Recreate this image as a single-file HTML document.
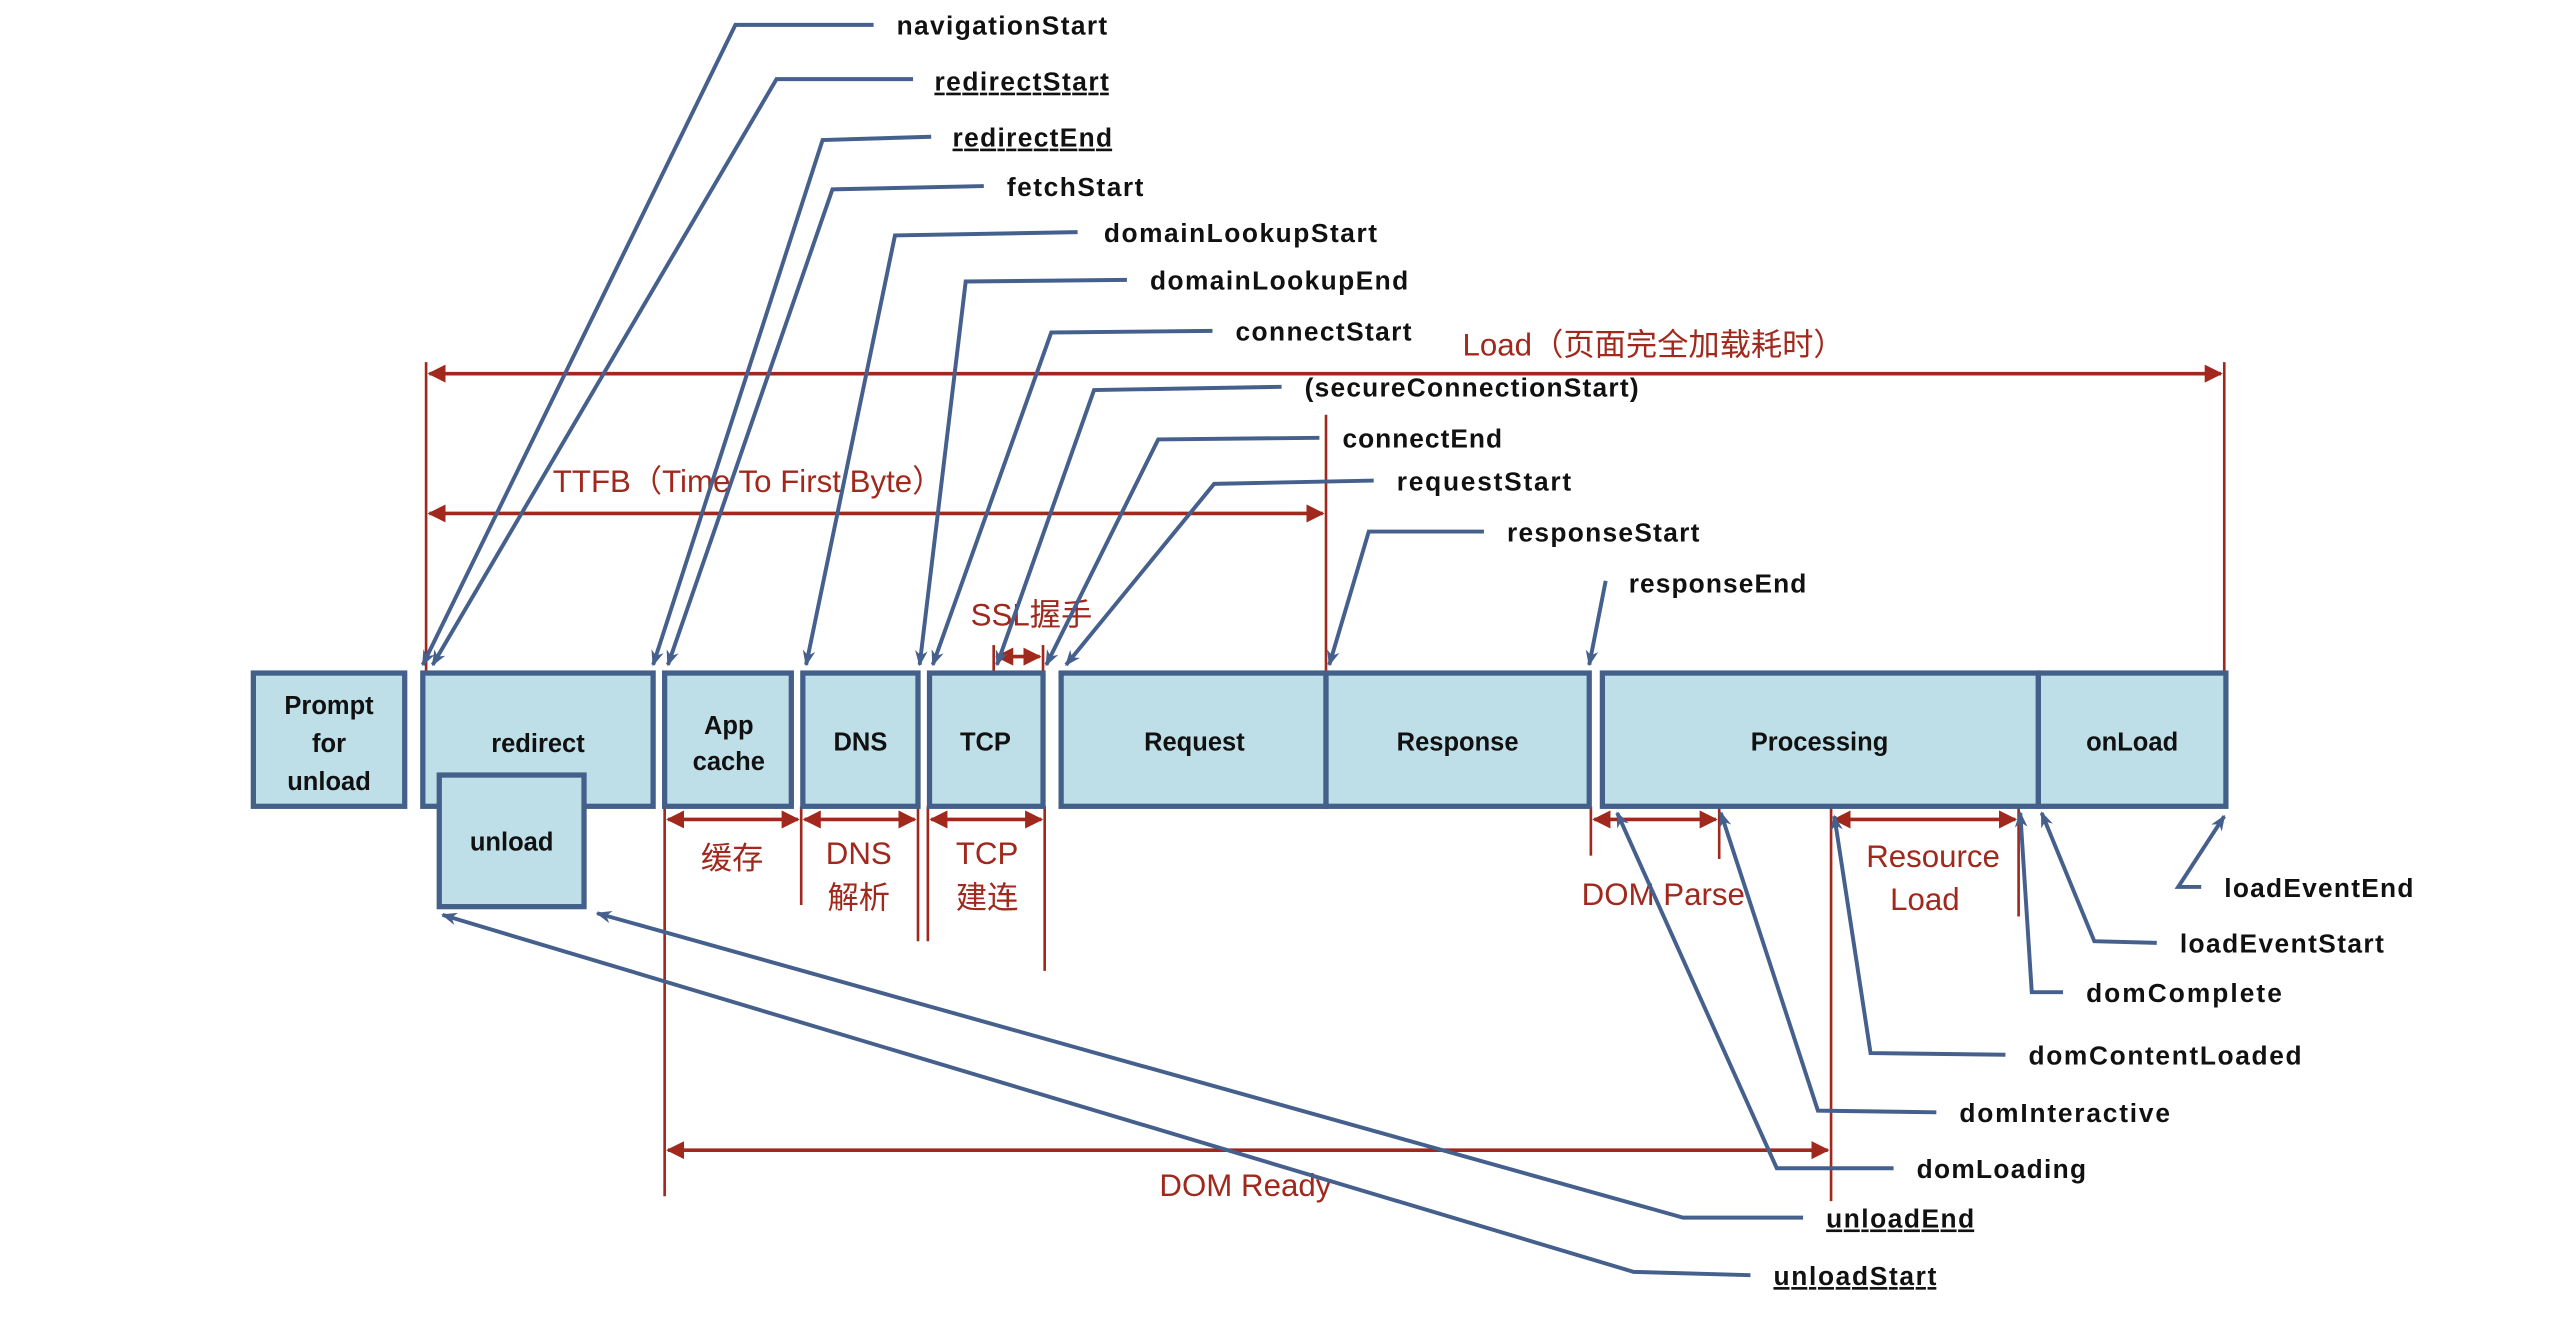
<!DOCTYPE html>
<html><head><meta charset="utf-8"><style>
html,body{margin:0;padding:0;background:#fff;}
svg{display:block;}
.b{fill:#bfdfe8;stroke:#43608a;stroke-width:3.2;}
.bt{font-family:"Liberation Sans",sans-serif;font-weight:bold;font-size:15.5px;fill:#111;text-anchor:middle;}
.l{font-family:"Liberation Sans",sans-serif;font-weight:bold;font-size:16px;fill:#111;}
.u{text-decoration:underline;}
.r{font-family:"Liberation Sans","Noto Sans CJK SC",sans-serif;font-size:19px;fill:#a0281c;}
.rc{text-anchor:middle;}
.bl{fill:none;stroke:#45608c;stroke-width:2.4;}
.rl{stroke:#a0281c;stroke-width:1.6;fill:none;}
.ra{stroke:#a0281c;stroke-width:2.2;fill:none;}
</style></head><body>
<svg width="2550" height="1328" viewBox="0 0 1550 807" xmlns="http://www.w3.org/2000/svg">
<defs>
<marker id="ar" viewBox="0 0 10 10" refX="9" refY="5" markerWidth="5" markerHeight="5" orient="auto-start-reverse"><path d="M0,0L10,5L0,10z" fill="#a0281c"/></marker>
<marker id="ab" viewBox="0 0 10 10" refX="9" refY="5" markerWidth="4" markerHeight="4" orient="auto"><path d="M0,1L10,5L0,9L3,5z" fill="#45608c"/></marker>
</defs>

<!-- red measure lines -->
<line class="rl" x1="259" y1="220" x2="259" y2="408"/>
<line class="rl" x1="1352" y1="220" x2="1352" y2="408"/>
<line class="ra" x1="261" y1="227" x2="1350" y2="227" marker-start="url(#ar)" marker-end="url(#ar)"/>
<text class="r" x="889" y="216">Load（页面完全加载耗时）</text>
<line class="rl" x1="806" y1="252" x2="806" y2="408"/>
<line class="ra" x1="261" y1="312" x2="804" y2="312" marker-start="url(#ar)" marker-end="url(#ar)"/>
<text class="r" x="336" y="299">TTFB（Time To First Byte）</text>
<text class="r" x="590" y="380">SSL握手</text>
<line class="rl" x1="604" y1="392" x2="604" y2="408"/>
<line class="rl" x1="634" y1="392" x2="634" y2="408"/>
<line class="ra" x1="606" y1="399" x2="632" y2="399" marker-start="url(#ar)" marker-end="url(#ar)"/>

<line class="rl" x1="404" y1="490" x2="404" y2="727"/>
<line class="rl" x1="487" y1="490" x2="487" y2="550"/>
<line class="rl" x1="558" y1="490" x2="558" y2="572"/>
<line class="rl" x1="564" y1="490" x2="564" y2="572"/>
<line class="rl" x1="635" y1="490" x2="635" y2="590"/>
<line class="ra" x1="406" y1="498" x2="485" y2="498" marker-start="url(#ar)" marker-end="url(#ar)"/>
<line class="ra" x1="489" y1="498" x2="556" y2="498" marker-start="url(#ar)" marker-end="url(#ar)"/>
<line class="ra" x1="566" y1="498" x2="633" y2="498" marker-start="url(#ar)" marker-end="url(#ar)"/>
<text class="r rc" x="445" y="528">缓存</text>
<text class="r rc" x="522" y="525">DNS</text>
<text class="r rc" x="522" y="552">解析</text>
<text class="r rc" x="600" y="525">TCP</text>
<text class="r rc" x="600" y="552">建连</text>

<line class="rl" x1="967" y1="490" x2="967" y2="520"/>
<line class="rl" x1="1045" y1="490" x2="1045" y2="522"/>
<line class="ra" x1="969" y1="498" x2="1043" y2="498" marker-start="url(#ar)" marker-end="url(#ar)"/>
<text class="r rc" x="1011" y="550">DOM Parse</text>
<line class="rl" x1="1113" y1="490" x2="1113" y2="730"/>
<line class="rl" x1="1227" y1="490" x2="1227" y2="557"/>
<line class="ra" x1="1115" y1="498" x2="1225" y2="498" marker-start="url(#ar)" marker-end="url(#ar)"/>
<text class="r rc" x="1175" y="527">Resource</text>
<text class="r rc" x="1170" y="553">Load</text>
<line class="ra" x1="406" y1="699" x2="1111" y2="699" marker-start="url(#ar)" marker-end="url(#ar)"/>
<text class="r rc" x="757" y="727">DOM Ready</text>

<!-- boxes -->
<rect class="b" x="154" y="409" width="92" height="81"/>
<text class="bt" x="200" y="434">Prompt</text>
<text class="bt" x="200" y="457">for</text>
<text class="bt" x="200" y="480">unload</text>
<rect class="b" x="257" y="409" width="140" height="81"/>
<text class="bt" x="327" y="457">redirect</text>
<rect class="b" x="267" y="471" width="88" height="80"/>
<text class="bt" x="311" y="517">unload</text>
<rect class="b" x="404" y="409" width="77" height="81"/>
<text class="bt" x="443" y="446">App</text>
<text class="bt" x="443" y="468">cache</text>
<rect class="b" x="488" y="409" width="70" height="81"/>
<text class="bt" x="523" y="456">DNS</text>
<rect class="b" x="565" y="409" width="69" height="81"/>
<text class="bt" x="599" y="456">TCP</text>
<rect class="b" x="645" y="409" width="161" height="81"/>
<text class="bt" x="726" y="456">Request</text>
<rect class="b" x="806" y="409" width="160" height="81"/>
<text class="bt" x="886" y="456">Response</text>
<rect class="b" x="974" y="409" width="265" height="81"/>
<text class="bt" x="1106" y="456">Processing</text>
<rect class="b" x="1239" y="409" width="114" height="81"/>
<text class="bt" x="1296" y="456">onLoad</text>

<!-- top leaders -->
<polyline class="bl" points="531,15 447,15 257,404" marker-end="url(#ab)"/>
<text class="l" x="545" y="21" textLength="128">navigationStart</text>
<polyline class="bl" points="555,48 472,48 263,404" marker-end="url(#ab)"/>
<text class="l u" x="568" y="55" textLength="106">redirectStart</text>
<polyline class="bl" points="566,83 500,85 397,404" marker-end="url(#ab)"/>
<text class="l u" x="579" y="89" textLength="97">redirectEnd</text>
<polyline class="bl" points="598,113 506,115 406,404" marker-end="url(#ab)"/>
<text class="l" x="612" y="119" textLength="83">fetchStart</text>
<polyline class="bl" points="655,141 544,143 490,404" marker-end="url(#ab)"/>
<text class="l" x="671" y="147" textLength="166">domainLookupStart</text>
<polyline class="bl" points="685,170 587,171 559,404" marker-end="url(#ab)"/>
<text class="l" x="699" y="176" textLength="157">domainLookupEnd</text>
<polyline class="bl" points="737,201 639,202 567,404" marker-end="url(#ab)"/>
<text class="l" x="751" y="207" textLength="107">connectStart</text>
<polyline class="bl" points="779,235 665,237 606,404" marker-end="url(#ab)"/>
<text class="l" x="793" y="241" textLength="203">(secureConnectionStart)</text>
<polyline class="bl" points="802,266 704,267 636,404" marker-end="url(#ab)"/>
<text class="l" x="816" y="272" textLength="97">connectEnd</text>
<polyline class="bl" points="835,292 738,294 648,404" marker-end="url(#ab)"/>
<text class="l" x="849" y="298" textLength="106">requestStart</text>
<polyline class="bl" points="902,323 832,323 808,404" marker-end="url(#ab)"/>
<text class="l" x="916" y="329" textLength="117">responseStart</text>
<polyline class="bl" points="976,353 966,404" marker-end="url(#ab)"/>
<text class="l" x="990" y="360" textLength="108">responseEnd</text>

<!-- bottom leaders -->
<polyline class="bl" points="1338,539 1324,539 1352,496" marker-end="url(#ab)"/>
<text class="l" x="1352" y="545" textLength="115">loadEventEnd</text>
<polyline class="bl" points="1311,573 1273,572 1241,494" marker-end="url(#ab)"/>
<text class="l" x="1325" y="579" textLength="124">loadEventStart</text>
<polyline class="bl" points="1254,603 1235,603 1228,494" marker-end="url(#ab)"/>
<text class="l" x="1268" y="609" textLength="119">domComplete</text>
<polyline class="bl" points="1219,641 1137,640 1115,496" marker-end="url(#ab)"/>
<text class="l" x="1233" y="647" textLength="166">domContentLoaded</text>
<polyline class="bl" points="1177,676 1105,675 1046,494" marker-end="url(#ab)"/>
<text class="l" x="1191" y="682" textLength="128">domInteractive</text>
<polyline class="bl" points="1151,710 1080,710 983,494" marker-end="url(#ab)"/>
<text class="l" x="1165" y="716" textLength="103">domLoading</text>
<polyline class="bl" points="1096,740 1023,740 363,555" marker-end="url(#ab)"/>
<text class="l u" x="1110" y="746" textLength="90">unloadEnd</text>
<polyline class="bl" points="1064,775 993,773 269,556" marker-end="url(#ab)"/>
<text class="l u" x="1078" y="781" textLength="99">unloadStart</text>
</svg>
</body></html>
